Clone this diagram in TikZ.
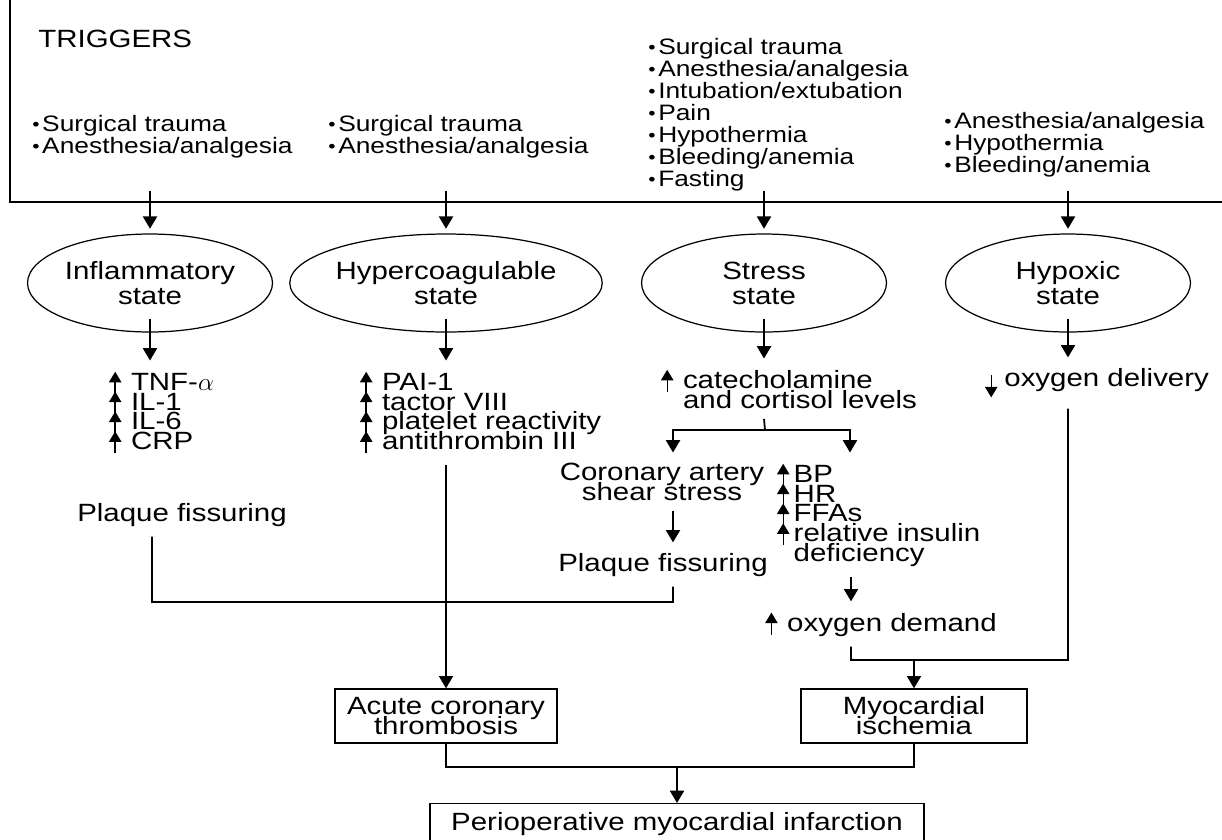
\documentclass[tikz,border=0pt]{standalone}
\usepackage{fontspec}
\setmainfont{Liberation Sans}[FakeStretch=1.18]
\usetikzlibrary{shapes.geometric,arrows.meta}

\newcommand{\incr}[1][5.5pt]{\tikz[baseline=0pt]\draw[-{Triangle[width=7pt,length=6pt]},line width=0.8pt] (0,-2pt) -- (0,10.5pt);\hspace{#1}}
\newcommand{\decr}{\tikz[baseline=0pt]\draw[-{Triangle[width=7pt,length=6pt]},line width=0.8pt] (0,6pt) -- (0,-6.5pt);\hspace{4pt}}
\newcommand{\bul}{\raisebox{0.5pt}{\fontsize{10}{10}\selectfont\textbullet}\hspace{1.5pt}}

\begin{document}
\begin{tikzpicture}[x=0.02cm, y=-0.02cm,
  txt/.style={font=\fontsize{14.2}{11.3}\selectfont\lineskiplimit-20pt, inner sep=0pt, outer sep=6pt, align=left},
  trig/.style={font=\fontsize{12.7}{12.5}\selectfont\lineskiplimit-20pt, inner sep=0pt, align=left, anchor=north west},
  state/.style={ellipse, draw, line width=0.7pt, minimum width=4.9cm, minimum height=1.96cm, inner sep=0pt, outer sep=3pt, align=center, font=\fontsize{14.2}{14.2}\selectfont},
  box/.style={draw, line width=0.8pt, inner sep=0pt, align=center, font=\fontsize{14.2}{11.4}\selectfont\lineskiplimit-20pt},
  arr/.style={-{Triangle[width=8pt,length=7pt]}, line width=1pt},
  link/.style={line width=1pt}]
       \useasboundingbox (0,0) rectangle (1222,839);

       \draw[link] (10,0) -- (10,202) -- (1222,202);
       \node(trg)[anchor=base west, inner sep=0pt, font=\fontsize{14.2}{14.2}\selectfont] at (38,47) {TRIGGERS};

       \node(tA)[trig] at (32,115) {\bul Surgical trauma\\\bul Anesthesia/analgesia};
       \node(tB)[trig] at (328,115) {\bul Surgical trauma\\\bul Anesthesia/analgesia};
       \node(tC)[trig] at (648,38) {\bul Surgical trauma\\\bul Anesthesia/analgesia\\\bul Intubation/extubation\\\bul Pain\\\bul Hypothermia\\\bul Bleeding/anemia\\\bul Fasting};
       \node(tD)[trig] at (944,112) {\bul Anesthesia/analgesia\\\bul Hypothermia\\\bul Bleeding/anemia};

       \node(infl)[state] at (150,283) {Inflammatory\\state};
       \node(hyper)[state] at (446,283) {Hypercoagulable\\state};
       \node(stress)[state] at (764,283) {Stress\\state};
       \node(hypox)[state] at (1068,283) {Hypoxic\\state};

       \draw[arr] ([yshift=0.76cm]infl.north) -- (infl.north);
       \draw[arr] ([yshift=0.76cm]hyper.north) -- (hyper.north);
       \draw[arr] ([yshift=0.76cm]stress.north) -- (stress.north);
       \draw[arr] ([yshift=0.76cm]hypox.north) -- (hypox.north);

       \node(inflL)[txt, anchor=north west] at (98.5,360.5) {\incr TNF-$\alpha$\\\incr IL-1\\\incr IL-6\\\incr CRP};
       \node(hyperL)[txt, anchor=north west] at (349.5,360.5) {\incr PAI-1\\\incr tactor VIII\\\incr platelet reactivity\\\incr antithrombin III};
       \node(catech)[txt, anchor=north west] at (650.5,358.5) {\incr catecholamine\\\hphantom{\incr}and cortisol levels};
       \node(odeliv)[txt, anchor=base west] at (974.5,386) {\decr oxygen delivery};

       \draw[arr] ([yshift=0.36cm]infl.south) -- (infl.south |- inflL.north);
       \draw[arr] ([yshift=0.36cm]hyper.south) -- (hyper.south |- hyperL.north);
       \draw[arr] ([yshift=0.36cm]stress.south) -- (stress.south |- catech.north);
       \draw[arr] ([yshift=0.36cm]hypox.south) -- (hypox.south |- odeliv.north);

       % stress branches
       \node(coron)[txt, align=center, anchor=north] at (662,452.5) {Coronary artery\\shear stress};
       \node(vitals)[txt, anchor=north west] at (766.5,452.5) {\incr[2.5pt]BP\\\incr[2.5pt]HR\\\incr[2.5pt]FFAs\\\incr[2.5pt]relative insulin\\\hphantom{\incr[2.5pt]}deficiency};
       \coordinate(sp) at (765,430);
       \draw[link] (stress.south |- catech.south) -- (sp);
       \draw[arr] (sp) -| ([xshift=0.22cm]coron.north);
       \draw[arr] (sp) -| ([xshift=1.67cm]vitals.north west);

       \node(plaqA)[txt, anchor=base] at (182,521) {Plaque fissuring};
       \node(plaqB)[txt, anchor=base] at (663,571) {Plaque fissuring};
       \node(odem)[txt, anchor=base] at (881,631) {\incr oxygen demand};

       \draw[arr] ([xshift=0.22cm]coron.south) -- ([xshift=0.22cm]coron.south |- plaqB.north);
       \coordinate(pj) at (673,602);
       \draw[link] ([xshift=-0.6cm]plaqA.south) |- (pj) -- ([xshift=0.2cm]plaqB.south);

       \node(acute)[box, minimum width=4.44cm, minimum height=1.08cm] at (446,716) {Acute coronary\\thrombosis};
       \node(myo)[box, minimum width=4.52cm, minimum height=1.08cm] at (914,716) {Myocardial\\ischemia};
       \node(peri)[box, anchor=north, minimum width=9.88cm, minimum height=0.8cm] at (677,803) {Perioperative myocardial infarction};

       \draw[arr] (hyper.south |- hyperL.south) -- (acute);

       % oxygen balance
       \draw[arr] ([xshift=1.69cm]vitals.south west) -- ([xshift=1.69cm]vitals.south west |- odem.north);
       \coordinate(dL) at (851,660);
       \coordinate(dR) at (1068,660);
       \draw[link] ([xshift=-0.6cm]odem.south) -- (dL) -- (dR) -- (hypox.south |- odeliv.south);
       \draw[arr] (myo.north |- dL) -- (myo);

       \coordinate(bj) at (677,767);
       \draw[link] (acute.south) |- (bj) -| (myo.south);
       \draw[arr] (bj) -- (peri);
\end{tikzpicture}
\end{document}
